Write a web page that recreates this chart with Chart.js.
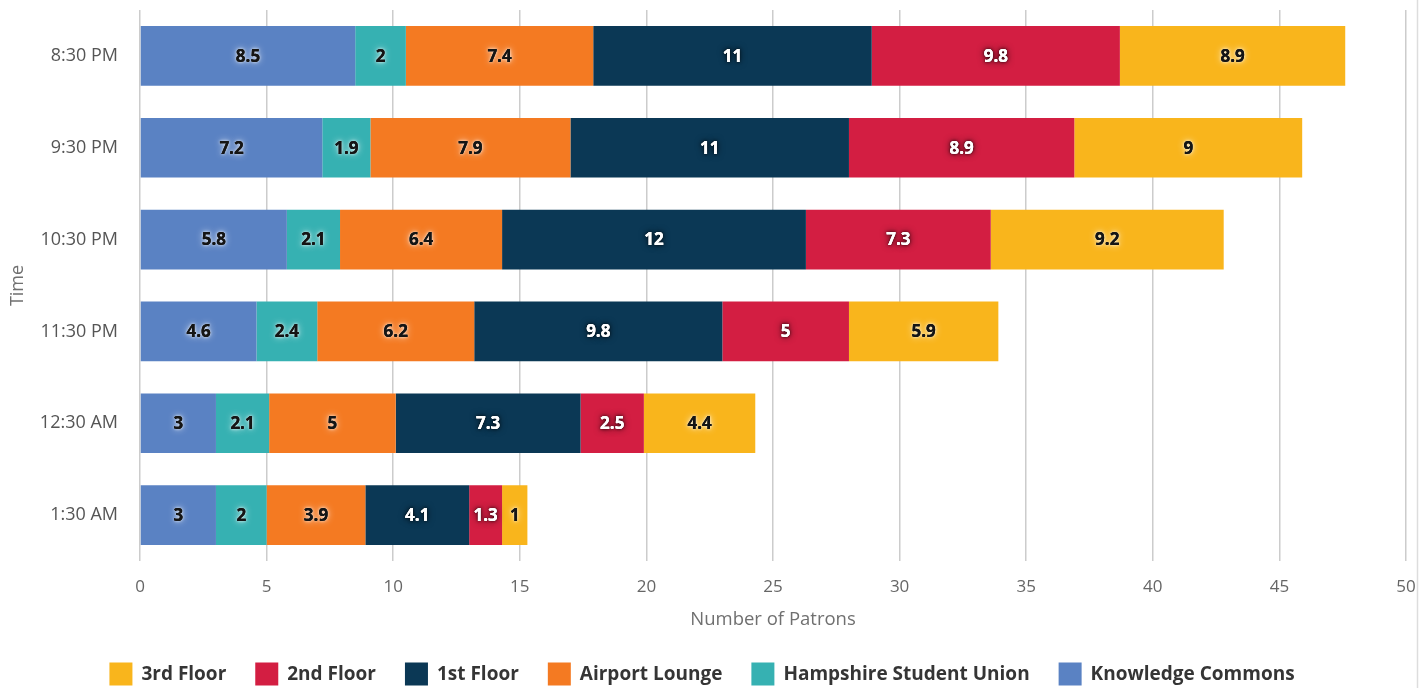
<!DOCTYPE html>
<html>
<head>
<meta charset="utf-8">
<script src="https://cdn.jsdelivr.net/npm/chart.js@4.4.1/dist/chart.umd.min.js"></script>
<style>
  html, body { margin: 0; padding: 0; background: #fff; }
  #wrap { width: 1424px; height: 688px; position: relative; }
</style>
</head>
<body>
<div id="wrap"><canvas id="c" width="1424" height="688"></canvas></div>
<script>
// ---- Data ----
const categories = ['8:30 PM', '9:30 PM', '10:30 PM', '11:30 PM', '12:30 AM', '1:30 AM'];
const knowledgeCommons = [8.5, 7.2, 5.8, 4.6, 3, 3];
const hampshireStudentUnion = [2, 1.9, 2.1, 2.4, 2.1, 2];
const airportLounge = [7.4, 7.9, 6.4, 6.2, 5, 3.9];
const firstFloor = [11, 11, 12, 9.8, 7.3, 4.1];
const secondFloor = [9.8, 8.9, 7.3, 5, 2.5, 1.3];
const thirdFloor = [8.9, 9, 9.2, 5.9, 4.4, 1];
const xTickValues = [0, 5, 10, 15, 20, 25, 30, 35, 40, 45, 50];
const seriesNames = ['Knowledge Commons', 'Hampshire Student Union', 'Airport Lounge', '1st Floor', '2nd Floor', '3rd Floor'];

const colors = ['#5a82c3', '#36b1b2', '#f47a22', '#0b3855', '#d31e42', '#f9b51c'];
const lightText = [false, false, false, true, true, false];
const seriesData = [knowledgeCommons, hampshireStudentUnion, airportLounge, firstFloor, secondFloor, thirdFloor];

const FONT = '"Open Sans", "DejaVu Sans", sans-serif';

const datasets = seriesNames.map((name, i) => ({
  label: name,
  data: seriesData[i],
  backgroundColor: colors[i],
  borderWidth: 0,
  categoryPercentage: 1,
  barPercentage: 0.65,
  _light: lightText[i]
}));

const extras = {
  id: 'extras',
  beforeDraw(chart) {
    const ctx = chart.ctx;
    ctx.save();
    ctx.strokeStyle = '#dddddd';
    ctx.lineWidth = 1.5;
    ctx.beginPath();
    ctx.moveTo(1417.5, 0);
    ctx.lineTo(1417.5, 688);
    ctx.stroke();
    ctx.restore();
  },
  afterDatasetsDraw(chart) {
    const ctx = chart.ctx;
    ctx.save();
    ctx.font = 'bold 17px ' + FONT;
    ctx.textAlign = 'center';
    ctx.textBaseline = 'middle';
    chart.data.datasets.forEach((ds, di) => {
      const meta = chart.getDatasetMeta(di);
      meta.data.forEach((bar, i) => {
        const v = ds.data[i];
        const cx = (bar.x + bar.base) / 2;
        const cy = bar.y;
        const txt = String(v);
        if (ds._light) {
          ctx.shadowColor = 'rgba(0,0,0,0.8)';
          ctx.fillStyle = '#ffffff';
        } else {
          ctx.shadowColor = 'rgba(255,255,255,0.85)';
          ctx.fillStyle = '#151515';
        }
        ctx.shadowBlur = 7;
        ctx.fillText(txt, cx, cy + 1);
        ctx.shadowBlur = 3;
        ctx.fillText(txt, cx, cy + 1);
        ctx.shadowBlur = 0;
        ctx.fillText(txt, cx, cy + 1);
      });
    });
    ctx.restore();
  },
  afterDraw(chart) {
    const ctx = chart.ctx;
    ctx.save();
    // x axis title
    ctx.fillStyle = '#707070';
    ctx.font = '18.5px ' + FONT;
    ctx.textAlign = 'center';
    ctx.textBaseline = 'middle';
    const area = chart.chartArea;
    ctx.fillText('Number of Patrons', (area.left + area.right) / 2, 620);
    // y axis title
    ctx.save();
    ctx.font = '18px ' + FONT;
    ctx.translate(18, (area.top + area.bottom) / 2);
    ctx.rotate(-Math.PI / 2);
    ctx.fillText('Time', 0, 0);
    ctx.restore();

    // legend (reversed order)
    ctx.font = 'bold 19px ' + FONT;
    ctx.textAlign = 'left';
    const box = 23, gapText = 9, gapItem = 29;
    const items = seriesNames.map((n, i) => ({ name: n, color: colors[i] })).reverse();
    let total = 0;
    items.forEach((it, k) => {
      it.w = box + gapText + ctx.measureText(it.name).width;
      total += it.w + (k < items.length - 1 ? gapItem : 0);
    });
    let x = 702 - total / 2;
    const y = 674;
    items.forEach(it => {
      ctx.fillStyle = it.color;
      ctx.fillRect(x, y - box / 2, box, box);
      ctx.fillStyle = '#353535';
      ctx.fillText(it.name, x + box + gapText, y + 1);
      x += it.w + gapItem;
    });
    ctx.restore();
  }
};

new Chart(document.getElementById('c'), {
  type: 'bar',
  data: { labels: categories, datasets },
  options: {
    indexAxis: 'y',
    responsive: false,
    animation: false,
    devicePixelRatio: 1,
    layout: { padding: { top: 10, right: 18, left: 0, bottom: 0 } },
    plugins: {
      legend: { display: false },
      tooltip: { enabled: false }
    },
    scales: {
      x: {
        stacked: true,
        min: 0,
        max: 50,
        afterBuildTicks(scale) { scale.ticks = xTickValues.map(v => ({ value: v })); },
        afterFit(scale) { scale.height = 127; scale.paddingLeft = 0; scale.paddingRight = 0; },
        grid: { color: '#cccccc', lineWidth: 1.5, drawTicks: false },
        border: { display: false },
        ticks: {
          padding: 16,
          color: '#666666',
          font: { family: FONT, size: 17 },
          maxRotation: 0
        }
      },
      y: {
        stacked: true,
        afterFit(scale) { scale.width = 140; scale.paddingTop = 0; scale.paddingBottom = 0; },
        grid: { display: false, drawTicks: false },
        border: { display: false },
        ticks: {
          padding: 22,
          color: '#555555',
          font: { family: FONT, size: 18 }
        }
      }
    }
  },
  plugins: [extras]
});
</script>
</body>
</html>
